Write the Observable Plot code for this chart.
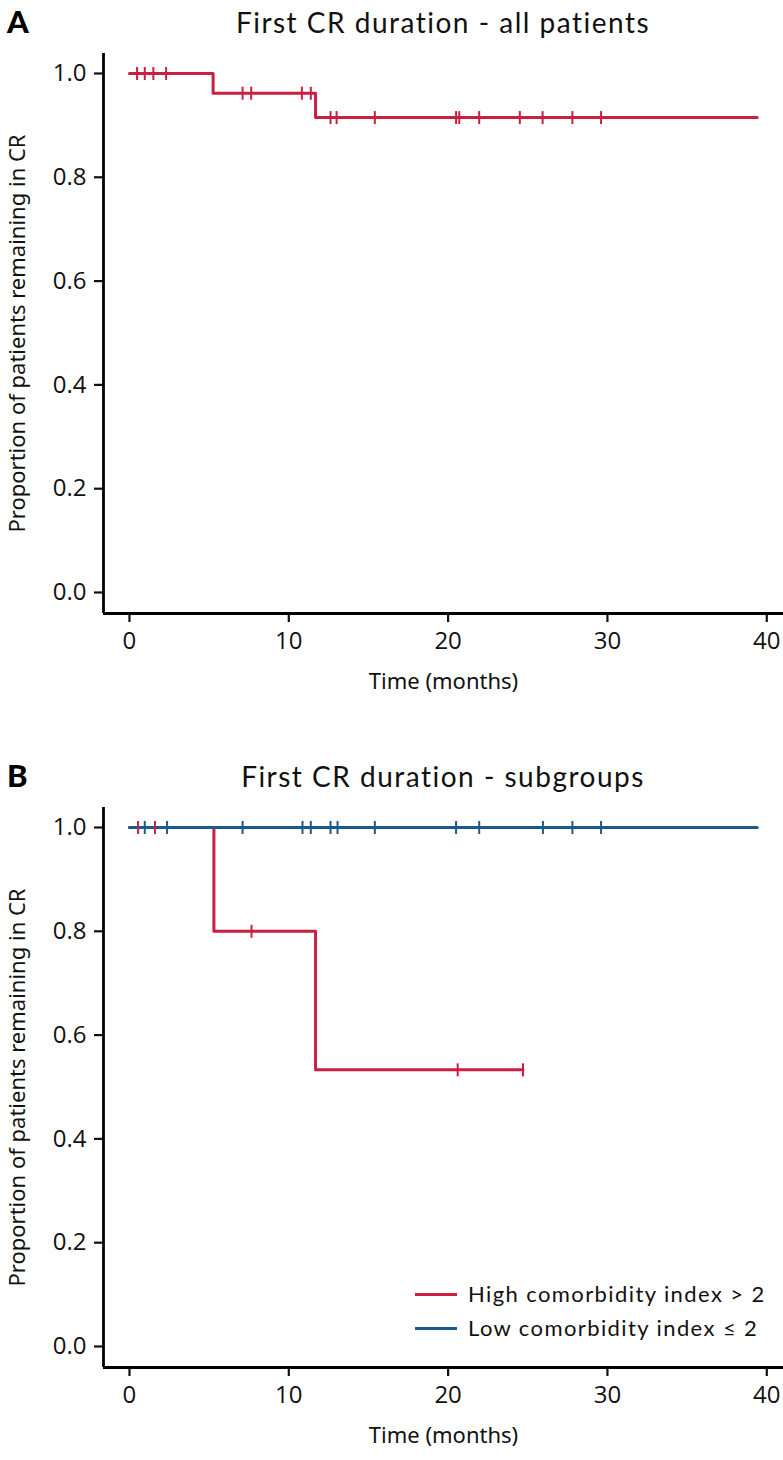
<!DOCTYPE html>
<html>
<head>
<meta charset="utf-8">
<script src="https://cdn.jsdelivr.net/npm/d3@7"></script>
<script src="https://cdn.jsdelivr.net/npm/@observablehq/plot@0.6"></script>
<style>
  html, body { margin: 0; padding: 0; background: #fff; }
  #root { position: relative; width: 783px; height: 1460px; overflow: hidden; }
  .panel { position: absolute; left: 0; width: 783px; }
  .letter { position: absolute; left: 7px; font-family: Lato, "Noto Sans", sans-serif; font-weight: 900; font-size: 31px; line-height: 1; color: #000; z-index: 2; }
  .title { position: absolute; left: 103px; width: 680px; text-align: center; font-family: Lato, "Noto Sans", sans-serif; font-size: 28px; letter-spacing: 1.5px; line-height: 1; color: #111; z-index: 2; }
  .legend { position: absolute; left: 415px; font-family: Lato, "Noto Sans", sans-serif; font-size: 22px; letter-spacing: 1.4px; color: #111; z-index: 2; }
  .legend .row { position: absolute; left: 0; white-space: nowrap; height: 30px; }
  .legend .sw { position: absolute; left: 0; top: 14px; width: 42px; height: 3px; }
  .legend .lb { position: absolute; left: 53px; top: 0; line-height: 30px; }
  .plot { position: absolute; left: 0; top: 0; }
</style>
</head>
<body>
<div id="root">
  <div class="panel" id="panelA" style="top:0px;">
    <div class="letter" style="top:6px;">A</div>
    <div class="title" style="top:8px;">First CR duration - all patients</div>
  </div>
  <div class="panel" id="panelB" style="top:754px;">
    <div class="letter" style="top:6px;">B</div>
    <div class="title" style="top:8px;">First CR duration - subgroups</div>
  </div>
</div>
<script>
// ---- Data ----
const xTicks = [0, 10, 20, 30, 40];
const yTicks = [0, 0.2, 0.4, 0.6, 0.8, 1.0];

// Panel A: all patients (Kaplan–Meier steps)
const allTimes = [0, 5.25, 11.68, 39.4];
const allSurv  = [1.0, 0.962, 0.915, 0.915];
const allCensor = [0.48, 0.96, 1.5, 2.3, 7.1, 7.64, 10.82, 11.38, 12.62, 13.0, 15.4, 20.5, 20.7, 21.95, 24.5, 25.93, 27.8, 29.6];

// Panel B: high comorbidity index > 2
const highTimes = [0, 5.3, 11.68, 24.7];
const highSurv  = [1.0, 0.8, 0.533, 0.533];
const highCensor = [0.54, 1.6, 7.66, 20.6, 24.7];

// Panel B: low comorbidity index ≤ 2
const lowTimes = [0, 39.4];
const lowSurv  = [1.0, 1.0];
const lowCensor = [0.96, 2.36, 7.1, 10.86, 11.38, 12.62, 13.06, 15.4, 20.5, 21.95, 25.95, 27.8, 29.6];

const seriesNames = ["High comorbidity index > 2", "Low comorbidity index \u2264 2"];
const seriesColors = ["#c91f41", "#1b5a8a"];
const allColor = "#c91f41";

const axisTitleX = "Time (months)";
const axisTitleY = "Proportion of patients remaining in CR";

// ---- helpers ----
function steps(times, surv) { return times.map((t, i) => ({t, s: surv[i]})); }
function censorPts(times, surv, cens) {
  return cens.map(c => {
    let s = surv[0];
    for (let i = 0; i < times.length; i++) if (times[i] <= c) s = surv[i];
    return {t: c, s};
  });
}
const tickSymbol = {
  draw(ctx, size) {
    const r = Math.sqrt(size / Math.PI);
    ctx.moveTo(0, -r);
    ctx.lineTo(0, r);
  }
};

const W = 783, H = 706;
const xDomain = [-1.63, 41.05];
const yDomain = [-0.0405, 1.0385];
const tickFont = '"Open Sans", "Noto Sans", sans-serif';

function basePlot(extraMarks) {
  return Plot.plot({
    width: W,
    height: H,
    marginTop: 53,
    marginBottom: H - 613,
    marginLeft: 103,
    marginRight: 0,
    style: {fontSize: "22px", color: "#111", background: "transparent", overflow: "visible"},
    x: {domain: xDomain},
    y: {domain: yDomain},
    marks: [
      Plot.axisX({ticks: xTicks, tickSize: 9, tickPadding: 9, strokeWidth: 2.2, label: null, fontSize: 24, fontFamily: tickFont}),
      Plot.axisY({ticks: yTicks, tickSize: 9, tickPadding: 8, strokeWidth: 2.2, tickFormat: d3.format(".1f"), label: null, fontSize: 24, fontFamily: tickFont}),
      Plot.ruleY([yDomain[0]], {stroke: "#000", strokeWidth: 2.8}),
      Plot.ruleX([xDomain[0]], {stroke: "#000", strokeWidth: 2.8}),
      Plot.text([axisTitleX], {frameAnchor: "bottom", dy: 75, text: d => d, fill: "#111"}),
      Plot.text([axisTitleY], {frameAnchor: "left", dx: -86, rotate: -90, textAnchor: "middle", text: d => d, fill: "#111"}),
      ...extraMarks
    ]
  });
}

// Panel A
const plotA = basePlot([
  Plot.line(steps(allTimes, allSurv), {x: "t", y: "s", curve: "step-after", stroke: allColor, strokeWidth: 3}),
  Plot.dot(censorPts(allTimes, allSurv, allCensor), {x: "t", y: "s", symbol: tickSymbol, r: 6.5, stroke: allColor, strokeWidth: 2, fill: "none"})
]);
plotA.classList.add("plot");
document.getElementById("panelA").appendChild(plotA);

// Panel B
const plotB = basePlot([
  Plot.line(steps(highTimes, highSurv), {x: "t", y: "s", curve: "step-after", stroke: seriesColors[0], strokeWidth: 3}),
  Plot.line(steps(lowTimes, lowSurv), {x: "t", y: "s", curve: "step-after", stroke: seriesColors[1], strokeWidth: 3}),
  Plot.dot(censorPts(highTimes, highSurv, highCensor), {x: "t", y: "s", symbol: tickSymbol, r: 6.5, stroke: seriesColors[0], strokeWidth: 2, fill: "none"}),
  Plot.dot(censorPts(lowTimes, lowSurv, lowCensor), {x: "t", y: "s", symbol: tickSymbol, r: 6.5, stroke: seriesColors[1], strokeWidth: 2, fill: "none"})
]);
plotB.classList.add("plot");
const panelB = document.getElementById("panelB");
panelB.appendChild(plotB);

// Legend (HTML)
const legend = document.createElement("div");
legend.className = "legend";
legend.style.top = "525px";
seriesNames.forEach((name, i) => {
  const row = document.createElement("div");
  row.className = "row";
  row.style.top = (i * 34) + "px";
  const sw = document.createElement("div");
  sw.className = "sw";
  sw.style.background = seriesColors[i];
  const lb = document.createElement("div");
  lb.className = "lb";
  lb.textContent = name;
  row.appendChild(sw); row.appendChild(lb);
  legend.appendChild(row);
});
panelB.appendChild(legend);
</script>
</body>
</html>
